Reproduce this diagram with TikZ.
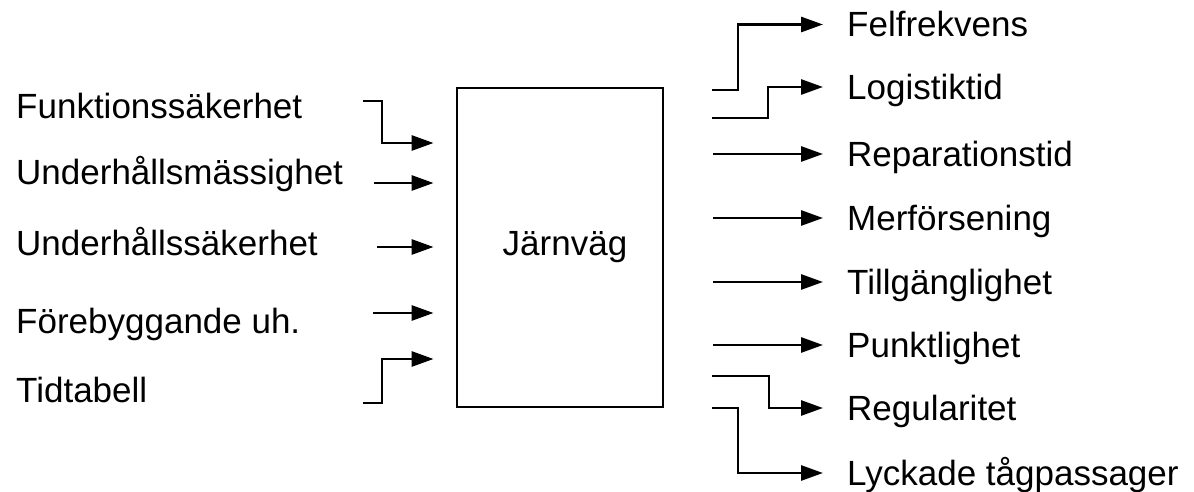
\documentclass[tikz,border=0pt]{standalone}
\usepackage{fontspec}
\setmainfont{Liberation Sans}
\usetikzlibrary{arrows.meta, positioning}

\begin{document}
\begin{tikzpicture}[
x=1pt, y=-1pt,
box/.style={rectangle, draw, line width=2.8pt, minimum width=206pt, minimum height=319pt, font=\fontsize{35}{41}\selectfont},
lbl/.style={anchor=west, inner sep=0pt, text height=25pt, text depth=0pt, font=\fontsize{35}{41}\selectfont},
arrow/.style={-{Triangle[length=22pt, width=15pt]}, line width=2.8pt}
]
\useasboundingbox (0,0) rectangle (1194,492);

\node[box] (bahn) at (560,247.5) {\hspace*{10pt}Järnväg};

% inputs
\node[lbl] (funk) at (16,106) {Funktionssäkerhet};
\node[lbl] (umass) at (16,172) {Underhållsmässighet};
\node[lbl] (usak) at (16,243) {Underhållssäkerhet};
\node[lbl] (foreb) at (16,321) {Förebyggande uh.};
\node[lbl] (tidt) at (16,390) {Tidtabell};

\coordinate (in1) at (363,101);
\coordinate (in2) at (374,183);
\coordinate (in3) at (377,247);
\coordinate (in4) at (373,313);
\coordinate (in5) at (363,403);

\draw[arrow, shorten >=22pt] (in1) -- ++(19,0) |- (bahn.west |- 0,143);
\draw[arrow, shorten >=22pt] (in2) -- (bahn.west |- in2);
\draw[arrow, shorten >=22pt] (in3) -- (bahn.west |- in3);
\draw[arrow, shorten >=22pt] (in4) -- (bahn.west |- in4);
\draw[arrow, shorten >=22pt] (in5) -- ++(19,0) |- (bahn.west |- 0,359);

% outputs
\node[lbl] (felf) at (847,24.5) {Felfrekvens};
\node[lbl] (logt) at (847,87) {Logistiktid};
\node[lbl] (rept) at (847,154) {Reparationstid};
\node[lbl] (merf) at (847,218) {Merförsening};
\node[lbl] (tillg) at (847,282) {Tillgänglighet};
\node[lbl] (punkt) at (847,345) {Punktlighet};
\node[lbl] (regul) at (847,408) {Regularitet};
\node[lbl] (lyck) at (847,473) {Lyckade tågpassager};

\coordinate (ut1) at (712,90);
\coordinate (ut2) at (712,118);
\coordinate (ut7) at (712,376);
\coordinate (ut8) at (712,408);

\draw[arrow, shorten >=24pt] (ut1) -- ++(26,0) |- (felf.west);
\draw[arrow, shorten >=24pt] (ut2) -- ++(56,0) |- (logt.west);
\draw[arrow, shorten <=49pt, shorten >=24pt] (bahn.east |- rept.west) -- (rept.west);
\draw[arrow, shorten <=49pt, shorten >=24pt] (bahn.east |- merf.west) -- (merf.west);
\draw[arrow, shorten <=49pt, shorten >=24pt] (bahn.east |- tillg.west) -- (tillg.west);
\draw[arrow, shorten <=49pt, shorten >=24pt] (bahn.east |- punkt.west) -- (punkt.west);
\draw[arrow, shorten >=24pt] (ut7) -- ++(57,0) |- (regul.west);
\draw[arrow, shorten >=24pt] (ut8) -- ++(26,0) |- (lyck.west);

\end{tikzpicture}
\end{document}
